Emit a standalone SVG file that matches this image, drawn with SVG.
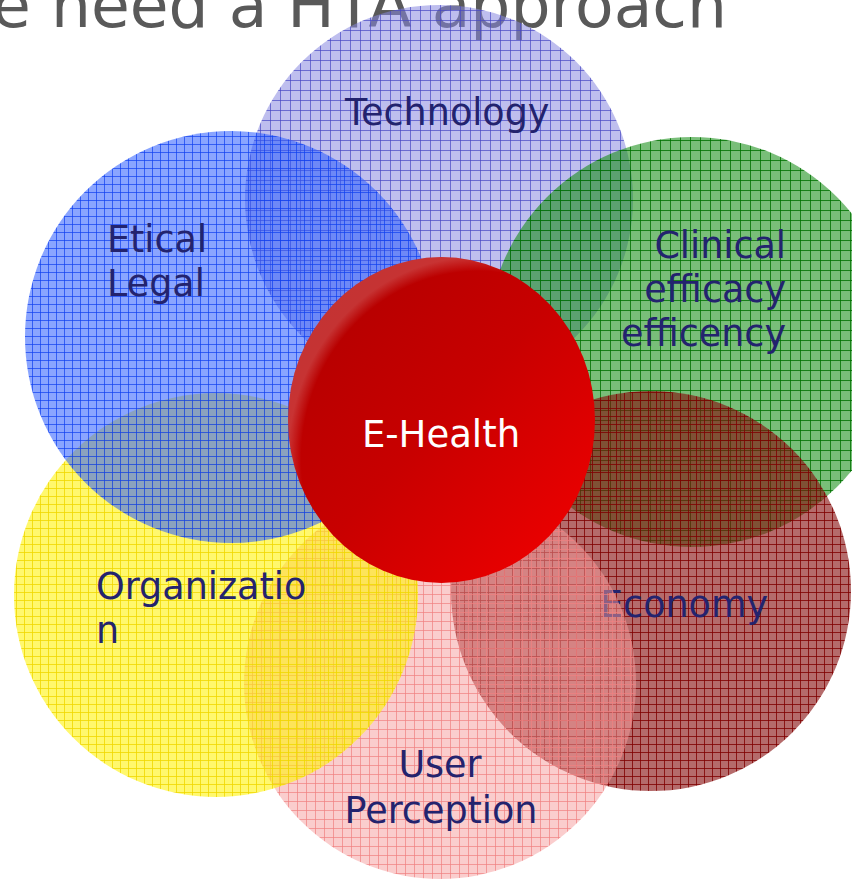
<svg xmlns="http://www.w3.org/2000/svg" width="852" height="887" viewBox="0 0 852 887">
<style>
.lbl{font-family:"DejaVu Sans","Verdana",sans-serif;font-size:36.5px;fill:#23236e}
.title{font-family:"DejaVu Sans",sans-serif;font-size:62px;fill:#595959}
.ctr{font-family:"DejaVu Sans",sans-serif;font-size:37px;fill:#ffffff}
</style>
<defs>
<pattern id="pTech" width="10" height="10" patternUnits="userSpaceOnUse">
<rect width="10" height="10" fill="#8989e0" fill-opacity="0.55"/>
<path d="M0 0.5H10M0.5 0V10" stroke="#4848c4" stroke-opacity="0.7" stroke-width="1" fill="none"/>
</pattern>
<pattern id="pClin" width="10" height="10" patternUnits="userSpaceOnUse">
<rect width="10" height="10" fill="#0a890a" fill-opacity="0.55"/>
<path d="M0 0.5H10M0.5 0V10" stroke="#007000" stroke-opacity="0.8" stroke-width="1" fill="none"/>
</pattern>
<pattern id="pEco" width="8" height="8" patternUnits="userSpaceOnUse">
<rect width="8" height="8" fill="#840909" fill-opacity="0.6"/>
<path d="M0 0.5H8M0.5 0V8" stroke="#800000" stroke-opacity="0.8" stroke-width="1" fill="none"/>
</pattern>
<pattern id="pUser" width="9" height="9" patternUnits="userSpaceOnUse">
<rect width="9" height="9" fill="#f59b9b" fill-opacity="0.5"/>
<path d="M0 0.5H9M0.5 0V9" stroke="#f08080" stroke-opacity="0.7" stroke-width="1" fill="none"/>
</pattern>
<pattern id="pOrg" width="8" height="8" patternUnits="userSpaceOnUse">
<rect width="8" height="8" fill="#fff40d" fill-opacity="0.6"/>
<path d="M0 0.5H8M0.5 0V8" stroke="#f0d800" stroke-opacity="0.8" stroke-width="1" fill="none"/>
</pattern>
<pattern id="pEth" width="8" height="8" patternUnits="userSpaceOnUse">
<rect width="8" height="8" fill="#2a5aff" fill-opacity="0.55"/>
<path d="M0 0.5H8M0.5 0V8" stroke="#1040f0" stroke-opacity="0.7" stroke-width="1" fill="none"/>
</pattern>
<linearGradient id="gRed" x1="0" y1="0" x2="1" y2="1">
<stop offset="0" stop-color="#ad0000"/>
<stop offset="0.5" stop-color="#c80000"/>
<stop offset="1" stop-color="#f50000"/>
</linearGradient>
<radialGradient id="gHi" cx="0.62" cy="0.62" r="0.62">
<stop offset="0.93" stop-color="#ffffff" stop-opacity="0"/>
<stop offset="1" stop-color="#ffffff" stop-opacity="0.2"/>
</radialGradient>
</defs>
<text class="title" x="-8" y="27" textLength="735" lengthAdjust="spacingAndGlyphs">e need a HTA approach</text>
<g id="technology">
<circle cx="439" cy="199" r="194" fill="url(#pTech)"/>
<text class="lbl" x="345" y="125">Technology</text>
</g>
<g id="clinical">
<circle cx="692" cy="342" r="205" fill="url(#pClin)"/>
<text class="lbl" text-anchor="end" x="786" y="258">Clinical</text>
<text class="lbl" text-anchor="end" x="786" y="302">efficacy</text>
<text class="lbl" text-anchor="end" x="786" y="346">efficency</text>
</g>
<g id="economy">
<circle cx="651" cy="591" r="200" fill="url(#pEco)"/>
<text class="lbl" x="600" y="617">Economy</text>
</g>
<g id="user-perception">
<circle cx="440" cy="683" r="196" fill="url(#pUser)"/>
<text class="lbl" text-anchor="middle" x="440" y="777">User</text>
<text class="lbl" text-anchor="middle" x="441" y="823">Perception</text>
</g>
<g id="organization">
<circle cx="216" cy="595" r="202" fill="url(#pOrg)"/>
<text class="lbl" x="96" y="599">Organizatio</text>
<text class="lbl" x="96" y="643">n</text>
</g>
<g id="etical-legal">
<circle cx="231" cy="337" r="206" fill="url(#pEth)"/>
<text class="lbl" x="107" y="252">Etical</text>
<text class="lbl" x="107" y="296">Legal</text>
</g>
<g id="e-health">
<ellipse cx="441.5" cy="420" rx="153.5" ry="163" fill="url(#gRed)"/>
<ellipse cx="441.5" cy="420" rx="153.5" ry="163" fill="url(#gHi)"/>
<text class="ctr" text-anchor="middle" x="441" y="447">E-Health</text>
</g>
<g id="connectors"/>
</svg>
